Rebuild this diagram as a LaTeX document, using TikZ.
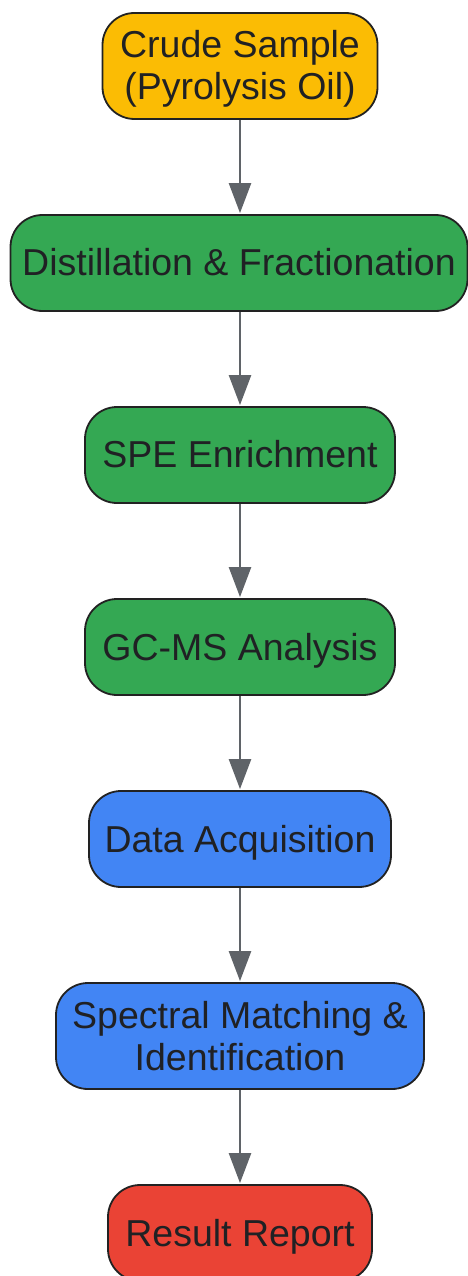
\documentclass[tikz,border=0pt]{standalone}
\usepackage{fontspec}
\setmainfont{Liberation Sans}
\usetikzlibrary{arrows.meta}
\definecolor{cyellow}{HTML}{FBBC04}
\definecolor{cgreen}{HTML}{34A853}
\definecolor{cblue}{HTML}{4285F4}
\definecolor{cred}{HTML}{EA4335}
\definecolor{cborder}{HTML}{222222}
\definecolor{ctext}{HTML}{202124}
\definecolor{carrow}{HTML}{5F6368}
\newcommand{\lnstrut}{\rule[-0.212em]{0pt}{1.117em}}
\begin{document}
\begin{tikzpicture}[x=1pt,y=-1pt,
  stepbox/.style={draw=cborder, line width=1.8pt, rounded corners=32pt,
    inner sep=0pt, text=ctext, align=center,
    font=\fontsize{37.5}{42}\selectfont},
  flow/.style={draw=carrow, line width=2.5pt, -{Triangle[width=22pt,length=30pt]}, shorten >=1pt}
]
\useasboundingbox (0,0) rectangle (468,1276);
\node[stepbox, fill=cyellow, minimum width=275pt, minimum height=106pt] (n1) at (240,66) {\lnstrut Crude Sample\\\lnstrut(Pyrolysis Oil)};
\node[stepbox, fill=cgreen, minimum width=457pt, minimum height=96pt] (n2) at (239,263) {\lnstrut Distillation \& Fractionation};
\node[stepbox, fill=cgreen, minimum width=310pt, minimum height=96pt] (n3) at (240,455) {\lnstrut SPE Enrichment};
\node[stepbox, fill=cgreen, minimum width=310pt, minimum height=96pt] (n4) at (240,647) {\lnstrut GC-MS Analysis};
\node[stepbox, fill=cblue, minimum width=302pt, minimum height=96pt] (n5) at (240,839) {\lnstrut Data Acquisition};
\node[stepbox, fill=cblue, minimum width=368pt, minimum height=106pt] (n6) at (240,1036) {\lnstrut Spectral Matching \&\\\lnstrut Identification};
\node[stepbox, fill=cred, minimum width=264pt, minimum height=96pt] (n7) at (240,1233) {\lnstrut Result Report};
\draw[flow] (n1.south) -- (n1.south |- n2.north);
\draw[flow] (n1.south |- n2.south) -- (n3.north);
\draw[flow] (n3.south) -- (n4.north);
\draw[flow] (n4.south) -- (n5.north);
\draw[flow] (n5.south) -- (n6.north);
\draw[flow] (n6.south) -- (n7.north);
\end{tikzpicture}
\end{document}
